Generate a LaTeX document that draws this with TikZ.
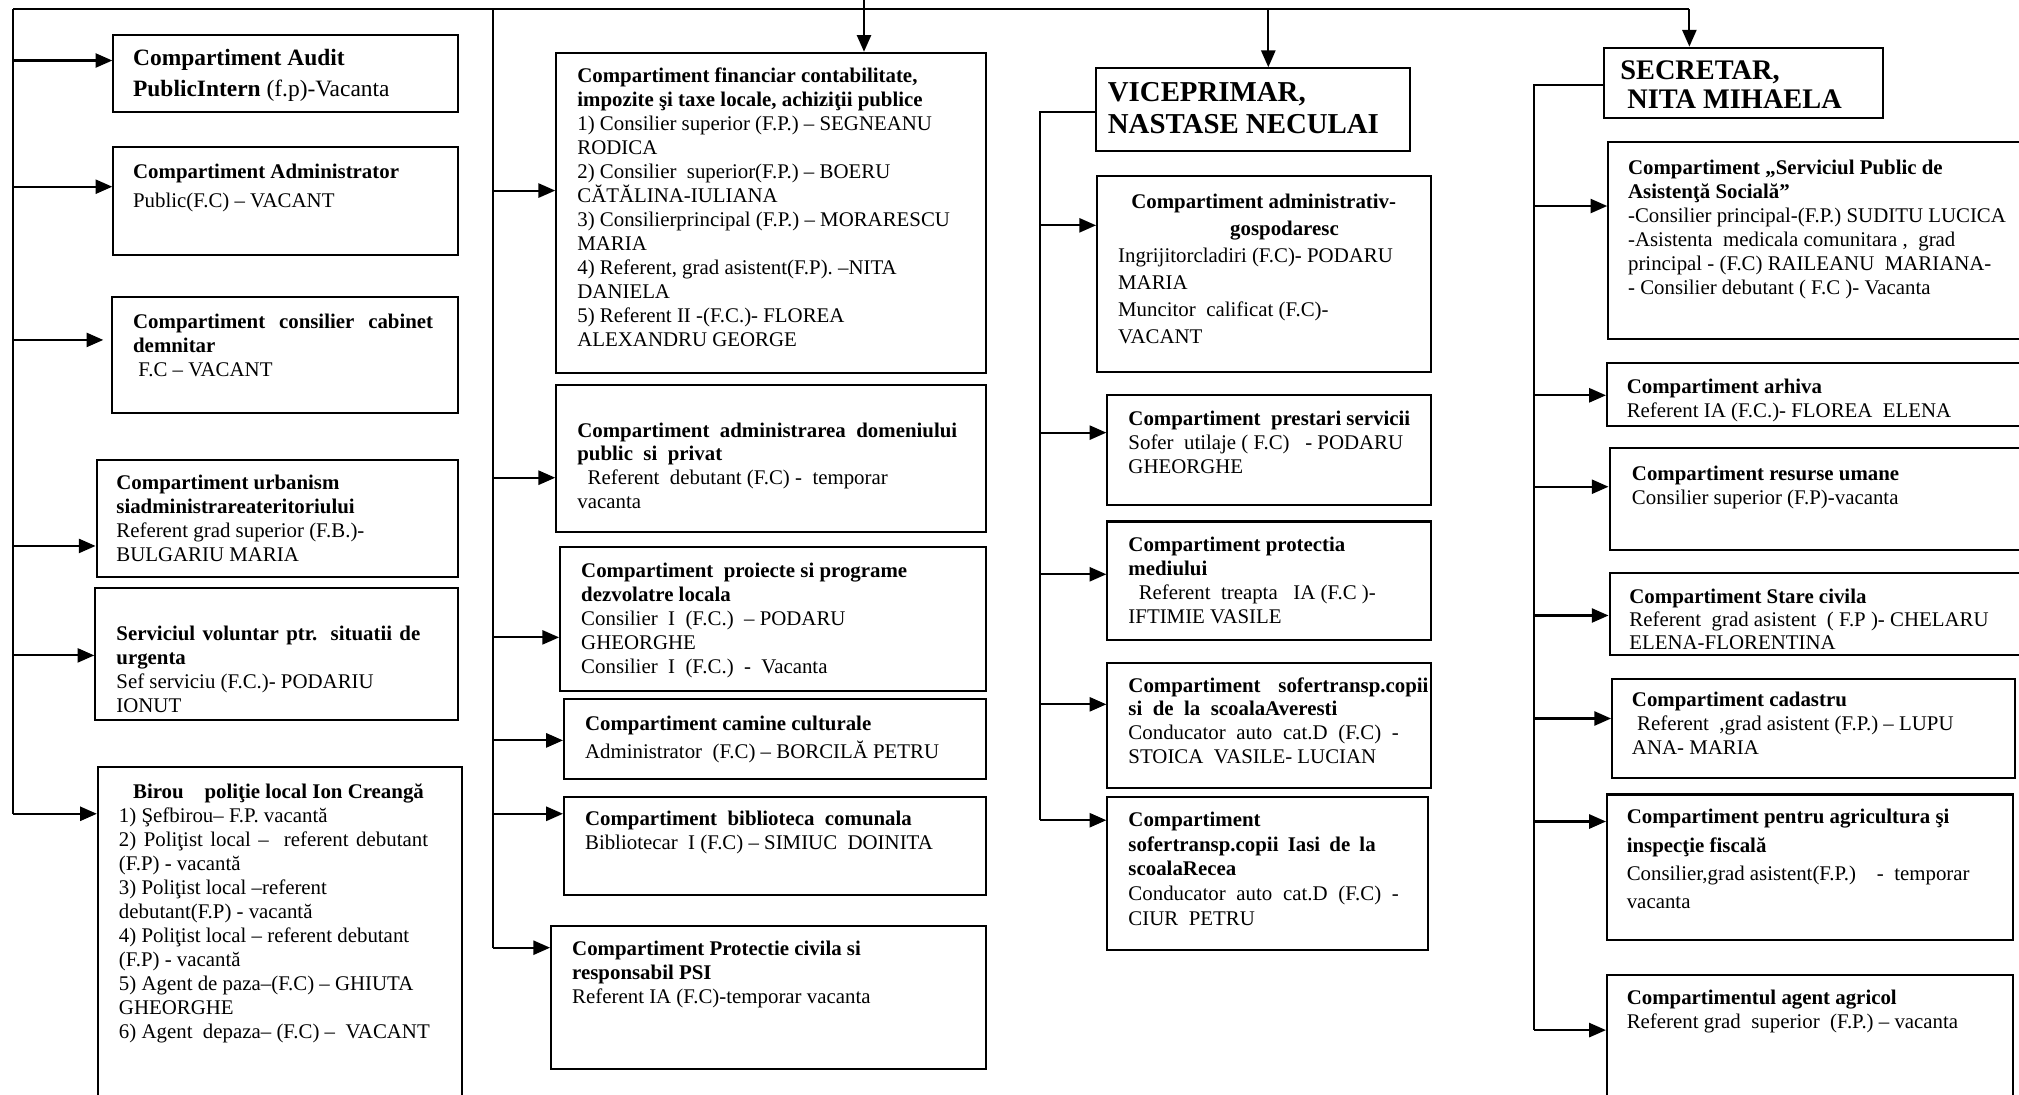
\documentclass[tikz,border=0pt]{standalone}
\usepackage{fontspec}
\setmainfont{Liberation Serif}
\usetikzlibrary{arrows.meta,fit}
\newlength\upx \setlength\upx{0.5pt}
\newcommand\js[2]{\makebox[#1\upx][s]{#2}}
\newcommand\ctr[2]{\makebox[#1\upx][c]{#2}}
\newcommand\fs[2]{\fontsize{#1}{#2}\selectfont}
\begin{document}
\begin{tikzpicture}[x=0.5pt,y=-0.5pt,
  boxst/.style={draw, line width=0.8pt, inner sep=0pt},
  txt/.style={anchor=north west, inner sep=0pt, align=left, font=\fs{8.1pt}{9.3pt}},
  arr/.style={line width=0.8pt, -{Triangle[length=6.5pt,width=5.5pt]}},
  ln/.style={line width=0.8pt}]
\useasboundingbox (0,0) rectangle (1568,850);

% ---------- boxes ----------
\node[boxst, fit={(88,27) (356,87)}] (audit) {};
\node[boxst, fit={(88,114) (356,198)}] (adminp) {};
\node[boxst, fit={(87,231) (356,321)}] (cabinet) {};
\node[boxst, fit={(75,357) (356,448)}] (urban) {};
\node[boxst, fit={(74,457) (356,559)}] (volunt) {};
\node[boxst, fit={(76,596) (359,862)}] (birou) {};

\node[boxst, fit={(432,41) (766,290)}] (fin) {};
\node[boxst, fit={(432,299) (766,413)}] (admdom) {};
\node[boxst, fit={(435,425) (766,537)}] (proiect) {};
\node[boxst, fit={(438,543) (766,605)}] (camine) {};
\node[boxst, fit={(438,619) (766,695)}] (biblio) {};
\node[boxst, fit={(428,719) (766,830)}] (protc) {};

\node[boxst, fit={(851,53) (1095,117)}] (vice) {};
\node[boxst, fit={(852,137) (1111,289)}] (gosp) {};
\node[boxst, fit={(860,307) (1111,392)}] (prest) {};
\node[boxst, fit={(860,405) (1111,497)}] (mediu) {};
\node[boxst, fit={(860,515) (1111,612)}] (avr) {};
\node[boxst, fit={(860,619) (1109,738)}] (recea) {};

\node[boxst, fit={(1246,37) (1462,92)}] (secr) {};
\node[boxst, fit={(1249,110) (1572,263)}] (spas) {};
\node[boxst, fit={(1248,282) (1572,331)}] (arhiva) {};
\node[boxst, fit={(1250,348) (1572,427)}] (resurse) {};
\node[boxst, fit={(1250,445) (1572,509)}] (stare) {};
\node[boxst, fit={(1252,527) (1565,604)}] (cadastru) {};
\node[boxst, fit={(1248,617) (1563,730)}] (agric) {};
\node[boxst, fit={(1248,757) (1563,862)}] (agent) {};

% ---------- bus lines ----------
\coordinate (tl) at (10,7);
\coordinate (tr) at (1312,7);
\coordinate (tin) at (671,0);
\coordinate (tv) at (985,7);
\draw[ln] (tl) -- (tr);
\draw[arr] (tr) -- (secr.north -| tr);
\draw[arr] (tin) -- (fin.north -| tin);
\draw[arr] (tv) -- (vice.north -| tv);

% column 1
\coordinate (a1) at (10,47);  \coordinate (a2) at (10,145);
\coordinate (a3) at (10,264); \coordinate (a4) at (10,424);
\coordinate (a5) at (10,509); \coordinate (a6) at (10,632);
\draw[ln] (tl) -- (a6);
\draw[arr] (a1) -- (audit.west |- a1);
\draw[arr] (a2) -- (adminp.west |- a2);
\draw[arr, shorten >=3pt] (a3) -- (cabinet.west |- a3);
\draw[arr] (a4) -- (urban.west |- a4);
\draw[arr] (a5) -- (volunt.west |- a5);
\draw[arr] (a6) -- (birou.west |- a6);

% column 2
\coordinate (b0) at (383,7);
\coordinate (b1) at (383,148); \coordinate (b2) at (383,371);
\coordinate (b3) at (383,495); \coordinate (b4) at (383,575);
\coordinate (b5) at (383,632); \coordinate (b6) at (383,736);
\draw[ln] (b0) -- (b6);
\draw[arr] (b1) -- (fin.west |- b1);
\draw[arr] (b2) -- (admdom.west |- b2);
\draw[arr] (b3) -- (proiect.west |- b3);
\draw[arr] (b4) -- (camine.west |- b4);
\draw[arr] (b5) -- (biblio.west |- b5);
\draw[arr] (b6) -- (protc.west |- b6);

% column 3
\coordinate (c0) at (808,87);
\coordinate (c1) at (808,175); \coordinate (c2) at (808,336);
\coordinate (c3) at (808,446); \coordinate (c4) at (808,547);
\coordinate (c5) at (808,637);
\draw[ln] (vice.west |- c0) -- (c0) -- (c5);
\draw[arr] (c1) -- (gosp.west |- c1);
\draw[arr] (c2) -- (prest.west |- c2);
\draw[arr] (c3) -- (mediu.west |- c3);
\draw[arr] (c4) -- (avr.west |- c4);
\draw[arr] (c5) -- (recea.west |- c5);

% column 4
\coordinate (d0) at (1191,66);
\coordinate (d1) at (1191,160); \coordinate (d2) at (1191,307);
\coordinate (d3) at (1191,378); \coordinate (d4) at (1191,478);
\coordinate (d5) at (1191,558); \coordinate (d6) at (1191,638);
\coordinate (d7) at (1191,800);
\draw[ln] (secr.west |- d0) -- (d0) -- (d7);
\draw[arr] (d1) -- (spas.west |- d1);
\draw[arr] (d2) -- (arhiva.west |- d2);
\draw[arr] (d3) -- (resurse.west |- d3);
\draw[arr] (d4) -- (stare.west |- d4);
\draw[arr] (d5) -- (cadastru.west |- d5);
\draw[arr] (d6) -- (agric.west |- d6);
\draw[arr] (d7) -- (agent.west |- d7);

% ---------- texts column 1 ----------
\node[txt, font=\fs{9.1pt}{12pt}] (t-audit) at (103,34) {\strut\textbf{Compartiment Audit}\\ \textbf{PublicIntern} (f.p)-Vacanta};
\node[txt, font=\fs{8.1pt}{11pt}] (t-adminp) at (103,123) {\strut\textbf{Compartiment Administrator}\\ Public(F.C) – VACANT};
\node[txt] (t-cabinet) at (103,242) {\strut\js{233}{\textbf{Compartiment consilier cabinet}}\\ \textbf{demnitar}\\ \ F.C – VACANT};
\node[txt] (t-urban) at (90,367) {\strut\textbf{Compartiment urbanism}\\ \textbf{siadministrareateritoriului}\\ Referent grad superior (F.B.)-\\ BULGARIU MARIA};
\node[txt] (t-volunt) at (90,484) {\strut\js{236}{\textbf{Serviciul voluntar ptr. situatii de}}\\ \textbf{urgenta}\\ Sef serviciu (F.C.)- PODARIU\\ IONUT};
\node[txt] (t-birou) at (92,607) {\strut\hspace*{11\upx}\textbf{Birou\quad poliţie local Ion Creangă}\\ 1) Şefbirou– F.P. vacantă\\ \js{240}{2) Poliţist local – \ referent debutant}\\ (F.P) - vacantă\\ 3) Poliţist local –referent\\ debutant(F.P) - vacantă\\ 4) Poliţist local – referent debutant\\ (F.P) - vacantă\\ 5) Agent de paza–(F.C) – GHIUTA\\ GHEORGHE\\ 6) Agent \ depaza– (F.C) – \ VACANT};

% ---------- texts column 2 ----------
\node[txt] (t-fin) at (448,51) {\strut\textbf{Compartiment financiar contabilitate,}\\ \textbf{impozite şi taxe locale, achiziţii publice}\\ 1) Consilier superior (F.P.) – SEGNEANU\\ RODICA\\ 2) Consilier \ superior(F.P.) – BOERU\\ CĂTĂLINA-IULIANA\\ 3) Consilierprincipal (F.P.) – MORARESCU\\ MARIA\\ 4) Referent, grad asistent(F.P). –NITA\\ DANIELA\\ 5) Referent II -(F.C.)- FLOREA\\ ALEXANDRU GEORGE};
\node[txt] (t-admdom) at (448,326) {\strut\js{295}{\textbf{Compartiment administrarea domeniului}}\\ \textbf{public \ si \ privat}\\ \hspace*{8\upx}Referent \ debutant (F.C) - \ temporar\\ vacanta};
\node[txt] (t-proiect) at (451,435) {\strut\textbf{Compartiment \ proiecte si programe}\\ \textbf{dezvolatre locala}\\ Consilier \ I \ (F.C.) \ – PODARU\\ GHEORGHE\\ Consilier \ I \ (F.C.) \ - \ Vacanta};
\node[txt] (t-camine) at (454,554) {\strut\textbf{Compartiment camine culturale}\\ Administrator \ (F.C) – BORCILĂ PETRU};
\node[txt] (t-biblio) at (454,628) {\strut\textbf{Compartiment \ biblioteca \ comunala}\\ Bibliotecar \ I (F.C) – SIMIUC \ DOINITA};
\node[txt] (t-protc) at (444,729) {\strut\textbf{Compartiment Protectie civila si}\\ \textbf{responsabil PSI}\\ Referent IA (F.C)-temporar vacanta};

% ---------- texts column 3 ----------
\node[txt, font=\fs{11.2pt}{12.5pt}] (t-vice) at (860,61) {\strut\textbf{VICEPRIMAR,}\\ \textbf{NASTASE NECULAI}};
\node[txt, font=\fs{8.1pt}{10.5pt}] (t-gosp) at (868,147) {\strut\ctr{226}{\textbf{Compartiment administrativ-}}\\ \hspace*{87\upx}\textbf{gospodaresc}\\ Ingrijitorcladiri (F.C)- PODARU\\ MARIA\\ Muncitor \ calificat (F.C)-\\ VACANT};
\node[txt] (t-prest) at (876,317) {\strut\textbf{Compartiment \ prestari servicii}\\ Sofer \ utilaje ( F.C) \ \ - PODARU\\ GHEORGHE};
\node[txt] (t-mediu) at (876,415) {\strut\textbf{Compartiment protectia}\\ \textbf{mediului}\\ \hspace*{8\upx}Referent \ treapta \ \ IA (F.C )-\\ IFTIMIE VASILE};
\node[txt] (t-avr) at (876,524) {\strut\js{233}{\textbf{Compartiment sofertransp.copii}}\\ \textbf{si \ de \ la \ scoalaAveresti}\\ \js{210}{Conducator auto cat.D (F.C) -}\\ STOICA \ VASILE- LUCIAN};
\node[txt, font=\fs{8.1pt}{9.6pt}] (t-recea) at (876,628) {\strut\textbf{Compartiment}\\ \js{192}{\textbf{sofertransp.copii Iasi de la}}\\ \textbf{scoalaRecea}\\ \js{210}{Conducator auto cat.D (F.C) -}\\ CIUR \ PETRU};

% ---------- texts column 4 ----------
\node[txt, font=\fs{11pt}{11.5pt}] (t-secr) at (1258,45) {\strut\textbf{SECRETAR,}\\ \textbf{\ NITA MIHAELA}};
\node[txt] (t-spas) at (1264,122) {\strut\textbf{Compartiment „Serviciul Public de}\\ \textbf{Asistenţă Socială”}\\ -Consilier principal-(F.P.) SUDITU LUCICA\\ -Asistenta \ medicala comunitara , \ grad\\ principal - (F.C) RAILEANU \ MARIANA-\\ - Consilier debutant ( F.C )- Vacanta};
\node[txt] (t-arhiva) at (1263,292) {\strut\textbf{Compartiment arhiva}\\ Referent IA (F.C.)- FLOREA \ ELENA};
\node[txt] (t-resurse) at (1267,360) {\strut\textbf{Compartiment resurse umane}\\ Consilier superior (F.P)-vacanta};
\node[txt, font=\fs{8.1pt}{8.9pt}] (t-stare) at (1265,456) {\strut\textbf{Compartiment Stare civila}\\ Referent \ grad asistent \ ( F.P )- CHELARU\\ ELENA-FLORENTINA};
\node[txt] (t-cadastru) at (1267,535) {\strut\textbf{Compartiment cadastru}\\ \ Referent \ ,grad asistent (F.P.) – LUPU\\ ANA- MARIA};
\node[txt, font=\fs{8.1pt}{11pt}] (t-agric) at (1263,624) {\strut\textbf{Compartiment pentru agricultura şi}\\ \textbf{inspecţie fiscală}\\ Consilier,grad asistent(F.P.) \ \ \ - \ temporar\\ vacanta};
\node[txt] (t-agent) at (1263,767) {\strut\textbf{Compartimentul agent agricol}\\ Referent grad \ superior \ (F.P.) – vacanta};
\end{tikzpicture}
\end{document}
